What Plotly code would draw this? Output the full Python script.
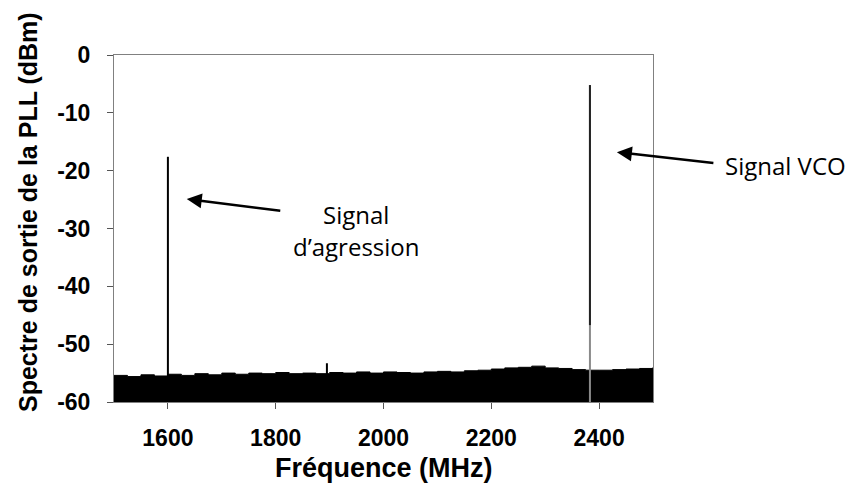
import plotly.graph_objects as go

# plancher de bruit (enveloppe haute), MHz / dBm
freq_bruit = [1500, 1525, 1550, 1575, 1600, 1625, 1650, 1675, 1700, 1725, 1750,
              1775, 1800, 1825, 1850, 1875, 1900, 1925, 1950, 1975, 2000, 2025,
              2050, 2075, 2100, 2125, 2150, 2175, 2200, 2225, 2250, 2275, 2300,
              2325, 2350, 2375, 2400, 2425, 2450, 2475, 2500]
niv_bruit = [-55.4, -55.6, -55.3, -55.5, -55.2, -55.4, -55.1, -55.3, -55.0, -55.2, -55.0,
             -55.1, -54.9, -55.1, -55.0, -55.1, -54.9, -55.0, -54.8, -55.0, -54.8, -54.9,
             -55.0, -54.8, -54.7, -54.8, -54.6, -54.5, -54.3, -54.1, -54.0, -53.8, -54.1,
             -54.2, -54.4, -54.5, -54.5, -54.4, -54.3, -54.2, -54.0]

# raies
freq_raies = [1600, 1895, 2383]
niv_raies = [-17.6, -53.3, -5.2]
couleur_raies = ['black', 'black', '#8a8a8a']
vco_sombre = [-46.7, -5.2]  # partie foncée de la raie VCO

y_ticks = [0, -10, -20, -30, -40, -50, -60]
y_labels = ['0', '-10', '-20', '-30', '-40', '-50', '-60']
x_ticks = [1600, 1800, 2000, 2200, 2400]

y_min = -60

fig = go.Figure()

fig.add_trace(go.Scatter(x=freq_bruit, y=[y_min] * len(freq_bruit), mode='lines',
                         line=dict(width=0), showlegend=False, hoverinfo='skip'))
fig.add_trace(go.Scatter(x=freq_bruit, y=niv_bruit, mode='lines', fill='tonexty',
                         fillcolor='black', line=dict(color='black', width=1, shape='hv'),
                         showlegend=False))

for f, n, c in zip(freq_raies, niv_raies, couleur_raies):
    fig.add_trace(go.Scatter(x=[f, f], y=[y_min, n], mode='lines',
                             line=dict(color=c, width=2), showlegend=False))
fig.add_trace(go.Scatter(x=[freq_raies[2], freq_raies[2]], y=vco_sombre, mode='lines',
                         line=dict(color='#222222', width=2), showlegend=False))

police_axe = dict(family='Liberation Sans, Arial', size=23, color='black', weight='bold')
police_txt = dict(family='Open Sans', size=24, color='black')

# la page a une marge de 8 px : positions en pixels de la fenêtre -> papier
L, T, W, H = 114, 55, 539, 347
def px(x):
    return (x - L) / W
def py(y):
    return (T + H - y) / H

annotations = [
    # flèches
    dict(x=1635, y=-24.9, xref='x', yref='y', ax=95, ay=12, text='', showarrow=True,
         arrowhead=2, arrowsize=1.2, arrowwidth=2.5, arrowcolor='black'),
    dict(x=2433, y=-16.8, xref='x', yref='y', ax=98, ay=11, text='', showarrow=True,
         arrowhead=2, arrowsize=1.2, arrowwidth=2.5, arrowcolor='black'),
    # textes
    dict(x=px(356), y=py(214), xref='paper', yref='paper', xanchor='center', yanchor='middle',
         text='Signal', showarrow=False, font=police_txt),
    dict(x=px(356), y=py(246), xref='paper', yref='paper', xanchor='center', yanchor='middle',
         text='d’agression', showarrow=False, font=police_txt),
    dict(x=px(785), y=py(165), xref='paper', yref='paper', xanchor='center', yanchor='middle',
         text='Signal VCO', showarrow=False, font=police_txt),
    # titres d'axes
    dict(x=px(28), y=py(212), xref='paper', yref='paper', xanchor='center', yanchor='middle',
         text='Spectre de sortie de la PLL (dBm)', textangle=-90, showarrow=False,
         font=dict(family='Liberation Sans, Arial', size=25, color='black', weight='bold')),
    dict(x=0.5, y=py(468), xref='paper', yref='paper', xanchor='center', yanchor='middle',
         text='Fréquence (MHz)', showarrow=False,
         font=dict(family='Liberation Sans, Arial', size=27, color='black', weight='bold')),
]

fig.update_layout(
    width=848, height=482,
    margin=dict(l=L - 8, r=856 - L - W, t=T - 8, b=490 - T - H),
    paper_bgcolor='white', plot_bgcolor='white',
    annotations=annotations,
    xaxis=dict(range=[1500, 2500], tickvals=x_ticks,
               ticks='outside', ticklen=6, tickcolor='#555555', showgrid=False,
               zeroline=False, showline=True, mirror=True, linecolor='#808080',
               tickfont=police_axe, ticklabelstandoff=9),
    yaxis=dict(range=[-60, 0], tickvals=y_ticks, ticktext=y_labels, ticks='outside',
               ticklen=6, tickcolor='#555555',
               showgrid=False, zeroline=False, showline=True, mirror=True,
               linecolor='#808080', tickfont=police_axe, ticklabelstandoff=12),
)

fig.write_html("out.html")
